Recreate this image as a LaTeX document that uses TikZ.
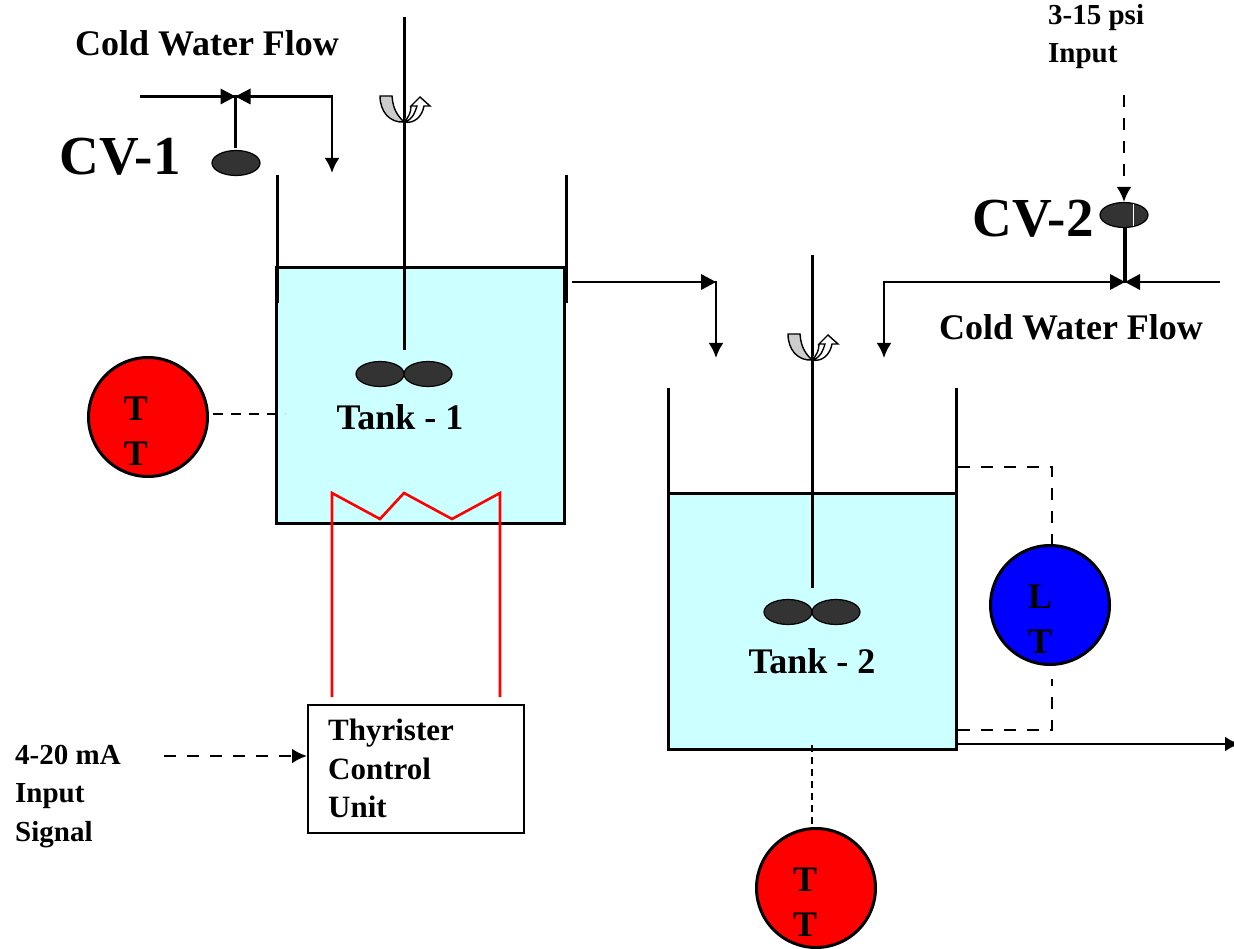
\documentclass[tikz,border=0pt]{standalone}
\usepackage{fontspec}
\setmainfont{Liberation Serif}
\usetikzlibrary{arrows.meta,shapes.geometric}
\definecolor{tankfill}{RGB}{204,255,255}
\definecolor{darkbob}{RGB}{51,51,51}
\definecolor{lightgrey}{RGB}{204,204,204}
\tikzset{
  x=1pt,y=-1pt,
  pipe/.style={line width=2.6pt,black},
  flow/.style={pipe,-{Latex[length=15pt,width=15pt]}},
  wall/.style={line width=3pt,black},
  sig/.style={line width=2.6pt,black,dash pattern=on 12pt off 11pt},
  heater/.style={line width=2.6pt,red},
  tankbox/.style={draw=black,line width=3pt,fill=tankfill,minimum width=288pt,minimum height=256pt,inner sep=0pt},
  blob/.style={draw=black,line width=1.2pt,fill=darkbob,ellipse,minimum width=48pt,minimum height=25pt,inner sep=0pt},
  xmtr/.style={draw=black,line width=3pt,circle,minimum size=119pt,inner sep=0pt},
  xlab/.style={font=\fontsize{36}{45}\selectfont\bfseries,inner sep=0pt,align=center},
  lab/.style={font=\fontsize{36}{36}\selectfont\bfseries,inner sep=0pt},
  biglab/.style={font=\fontsize{55}{55}\selectfont\bfseries,inner sep=0pt},
  smalllab/.style={font=\fontsize{29}{38.5}\selectfont\bfseries,inner sep=0pt,align=left,anchor=north west},
}
\newcommand{\stirrer}[2]{%
  \begin{scope}[shift={(#1,#2)}]
    \draw[line width=1.4pt,black,fill=lightgrey] (-24,-26) -- (-12,-26) .. controls (-11,-12) and (-6,-6) .. (0,0)
      .. controls (-14,1) and (-24,-10) .. (-24,-26) -- cycle;
    \draw[line width=1.4pt,black,fill=white] (0,0) .. controls (9,-2) and (11,-10) .. (13,-16) -- (7,-16) -- (16,-25) -- (26,-16) -- (20,-16)
      .. controls (18,-5) and (10,2) .. (0,0) .. controls (5,-5) and (7,-10) .. (7,-16);
  \end{scope}
}
\newcommand{\valvetips}[2]{%
  \fill[black] (#1,#2) -- (#1-15,#2-8) -- (#1-15,#2+8) -- cycle;
  \fill[black] (#1,#2) -- (#1+15,#2-8) -- (#1+15,#2+8) -- cycle;
}
\begin{document}
\begin{tikzpicture}
\useasboundingbox (0,0) rectangle (1234,949);
\fill[white] (0,0) rectangle (1234,949);

% Tank 1
\node[tankbox] (tank1) at (420.5,395.5) {};
\coordinate (t1wl) at (277.5,175);
\coordinate (t1wlb) at (277.5,303);
\coordinate (t1wr) at (566,175);
\coordinate (t1wrb) at (566,303);
\draw[wall] (t1wl) -- (t1wlb);
\draw[wall] (t1wr) -- (t1wrb);

% Tank 2
\node[tankbox] (tank2) at (812.5,621) {};
\coordinate (t2wl) at (668,388);
\coordinate (t2wlb) at (668,515);
\coordinate (t2wr) at (956,388);
\coordinate (t2wrb) at (956,515);
\draw[wall] (t2wl) -- (t2wlb);
\draw[wall] (t2wr) -- (t2wrb);

% Stirrers
\coordinate (s1top) at (404,17);
\coordinate (s1bot) at (404,350);
\draw[wall] (s1top) -- (s1bot);
\stirrer{404}{122}
\node[blob] (b1l) at (380,374) {};
\node[blob] (b1r) at (428,374) {};

\coordinate (s2top) at (812,255);
\coordinate (s2bot) at (812,588);
\draw[wall] (s2top) -- (s2bot);
\stirrer{812}{360}
\node[blob] (b2l) at (788,612) {};
\node[blob] (b2r) at (836,612) {};

\node[lab] (t1lab) at (400,417) {Tank - 1};
\node[lab] (t2lab) at (812,661) {Tank - 2};

% CV-1
\coordinate (cv1in) at (140,96.5);
\coordinate (cv1v) at (235.5,96.5);
\coordinate (cv1c) at (332,96.5);
\coordinate (cv1end) at (332,173);
\draw[pipe] (cv1in) -- (cv1v);
\draw[flow] (cv1v) -- (cv1c) -- (cv1end);
\valvetips{235.5}{96.5}
\coordinate (cv1stem) at (235.5,148);
\draw[line width=3.5pt] (cv1v) -- (cv1stem);
\node[blob] (cv1b) at (236,163) {};
\node[biglab] (cv1lab) at (120,157) {CV-1};
\node[lab] (cwf1) at (207,43) {Cold Water Flow};

% Tank 1 to Tank 2
\coordinate (o1) at (572,282);
\coordinate (o1v) at (716,282);
\coordinate (o1end) at (716,358);
\draw[flow] (o1) -- (o1v) -- (o1end);
\fill[black] (716,282) -- (701,274) -- (701,290) -- cycle;

% CV-2
\coordinate (cv2in) at (1220,282);
\coordinate (cv2v) at (1125,282);
\coordinate (cv2c) at (884,282);
\coordinate (cv2end) at (884,358);
\draw[pipe] (cv2in) -- (cv2v);
\draw[flow] (cv2v) -- (cv2c) -- (cv2end);
\valvetips{1125}{282}
\coordinate (cv2stem) at (1125,228);
\draw[line width=3.5pt] (cv2v) -- (cv2stem);
\node[blob] (cv2b) at (1124,215) {};
\draw[white,line width=1pt] (1133,204) -- (1133,226);
\coordinate (psi) at (1124,95);
\draw[sig,-{Latex[length=15pt,width=15pt]}] (psi) -- (cv2b.north);
\node[biglab] (cv2lab) at (1033,219) {CV-2};
\node[lab] (cwf2) at (1071,327) {Cold Water Flow};
\node[smalllab] (psilab) at (1048,4) {3-15 psi\\Input};

% Transmitters
\node[xmtr,fill=red] (tt1) at (148,417) {};
\node[xlab] (tt1l) at (136,431) {T\\T};
\node[xmtr,fill=red] (tt2) at (816,888) {};
\node[xlab] (tt2l) at (805,902) {T\\T};
\node[xmtr,fill=blue] (lt) at (1050,605) {};
\node[xlab] (ltl) at (1040,619) {L\\T};

\coordinate (tt1e) at (285,414);
\draw[line width=2.2pt,dash pattern=on 10pt off 8pt] (tt1.east |- tt1e) ++(4,0) -- (tt1e);
\coordinate (tt2e) at (812,745);
\coordinate (tt2f) at (812,828);
\draw[line width=2pt,dash pattern=on 7pt off 5pt] (tt2e) -- (tt2f);

\coordinate (ltt) at (958,467);
\coordinate (lttc) at (1052,467);
\coordinate (lttb) at (1052,545);
\draw[sig] (ltt) -- (lttc) -- (lttb);
\coordinate (ltb) at (958,730);
\coordinate (ltbc) at (1052,730);
\coordinate (ltbt) at (1052,679);
\draw[sig] (ltb) -- (ltbc) -- (ltbt);

% Outlet
\coordinate (out) at (957,744);
\coordinate (outend) at (1240,744);
\draw[flow] (out) -- (outend);

% Heater and control unit
\node[draw=black,line width=2pt,fill=white,minimum width=216pt,minimum height=128pt,inner sep=0pt] (tcu) at (416,769) {};
\node[font=\fontsize{31}{38.5}\selectfont\bfseries,inner sep=0pt,align=left,anchor=north west] (tcul) at (328,719) {Thyrister\\Control\\Unit};
\coordinate (hl) at (332,697);
\coordinate (h1) at (332,493);
\coordinate (h2) at (380,519);
\coordinate (h3) at (404,493);
\coordinate (h4) at (452,519);
\coordinate (h5) at (500,493);
\coordinate (hr) at (500,697);
\draw[heater] (hl) -- (h1) -- (h2) -- (h3) -- (h4) -- (h5) -- (hr);

\node[smalllab] (sigl) at (15,745) {4-20 mA\\Input\\Signal};
\coordinate (sigs) at (164,756);
\draw[sig,-{Latex[length=15pt,width=15pt]}] (sigs) -- (tcu.west |- sigs);
\end{tikzpicture}
\end{document}
